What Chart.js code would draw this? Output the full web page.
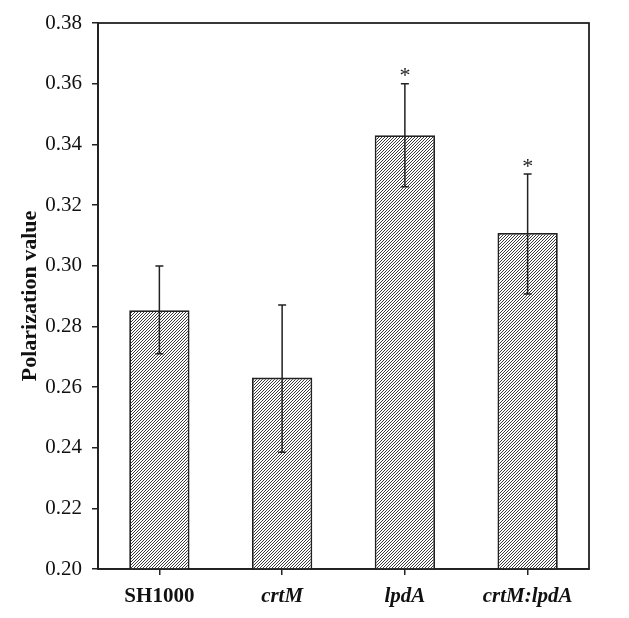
<!DOCTYPE html>
<html>
<head>
<meta charset="utf-8">
<script src="https://cdn.jsdelivr.net/npm/chart.js@4"></script>
<style>
  html, body { margin: 0; padding: 0; background: #fff; }
  #wrap { width: 629px; height: 618px; }
</style>
</head>
<body>
<div id="wrap"><canvas id="myChart" width="629" height="618"></canvas></div>
<script>
const strains = ['SH1000', 'crtM', 'lpdA', 'crtM:lpdA'];
const polarization = [0.2853, 0.2631, 0.3430, 0.3108];
const errUpper = [0.2999, 0.2870, 0.3600, 0.3302];
const errLower = [0.2710, 0.2385, 0.3260, 0.2907];
const significant = [false, false, true, true];
const yTicks = [0.20, 0.22, 0.24, 0.26, 0.28, 0.30, 0.32, 0.34, 0.36, 0.38];

// diagonal hatch fill
function hatch() {
  const n = 3;
  const c = document.createElement('canvas');
  c.width = n; c.height = n;
  const g = c.getContext('2d');
  g.fillStyle = '#fff';
  g.fillRect(0, 0, n, n);
  g.strokeStyle = '#3a3a3a';
  g.lineWidth = 1;
  g.beginPath();
  g.moveTo(0, n); g.lineTo(n, 0);
  g.moveTo(-1, 1); g.lineTo(1, -1);
  g.moveTo(n - 1, n + 1); g.lineTo(n + 1, n - 1);
  g.stroke();
  return g.createPattern(c, 'repeat');
}

const errorBars = {
  id: 'errorBars',
  afterDatasetsDraw(chart) {
    const c = chart.ctx;
    const y = chart.scales.y;
    const meta = chart.getDatasetMeta(0);
    c.save();
    c.strokeStyle = '#222';
    c.lineWidth = 1.5;
    meta.data.forEach((bar, i) => {
      const x = bar.x;
      const top = y.getPixelForValue(errUpper[i]);
      const bot = y.getPixelForValue(errLower[i]);
      c.beginPath();
      c.moveTo(x, top); c.lineTo(x, bot);
      c.moveTo(x - 4, top); c.lineTo(x + 4, top);
      c.moveTo(x - 4, bot); c.lineTo(x + 4, bot);
      c.stroke();
      if (significant[i]) {
        c.fillStyle = '#222';
        c.font = '22px "Liberation Serif"';
        c.textAlign = 'center';
        c.textBaseline = 'bottom';
        c.fillText('*', x, top + 4);
      }
    });
    // frame
    const a = chart.chartArea;
    c.strokeStyle = '#222';
    c.lineWidth = 1.8;
    c.strokeRect(a.left, a.top, a.right - a.left, a.bottom - a.top);
    c.restore();
  }
};

new Chart(document.getElementById('myChart').getContext('2d'), {
  type: 'bar',
  data: {
    labels: strains,
    datasets: [{
      data: polarization,
      backgroundColor: hatch(),
      borderColor: '#222',
      borderWidth: 1.8,
      barPercentage: 0.63,
      categoryPercentage: 0.78
    }]
  },
  options: {
    responsive: false,
    animation: false,
    layout: { padding: { top: 23, right: 40, left: 0, bottom: 0 } },
    plugins: { legend: { display: false }, tooltip: { enabled: false } },
    scales: {
      x: {
        grid: { offset: false, drawOnChartArea: false, tickLength: 6, color: '#222', lineWidth: 1.5 },
        border: { color: '#222', width: 1.8 },
        ticks: {
          color: '#111',
          padding: 9,
          font: (ctx) => ({
            family: '"Liberation Serif"',
            size: 21,
            weight: 'bold',
            style: ctx.index > 0 ? 'italic' : 'normal'
          })
        },
        afterFit(s) { s.height = 49; }
      },
      y: {
        min: 0.20,
        max: 0.38,
        afterBuildTicks(s) { s.ticks = yTicks.map(v => ({ value: v })); },
        grid: { drawOnChartArea: false, tickLength: 6, color: '#222', lineWidth: 1.5 },
        border: { color: '#222', width: 1.8 },
        ticks: {
          color: '#111',
          padding: 10,
          font: { family: '"Liberation Serif"', size: 21 },
          callback: (v) => Number(v).toFixed(2)
        },
        title: {
          display: true,
          text: 'Polarization value',
          color: '#111',
          padding: { top: 17, bottom: 4 },
          font: { family: '"Liberation Serif"', size: 22, weight: 'bold' }
        },
        afterFit(s) { s.width = 98; }
      }
    }
  },
  plugins: [errorBars]
});
</script>
</body>
</html>
